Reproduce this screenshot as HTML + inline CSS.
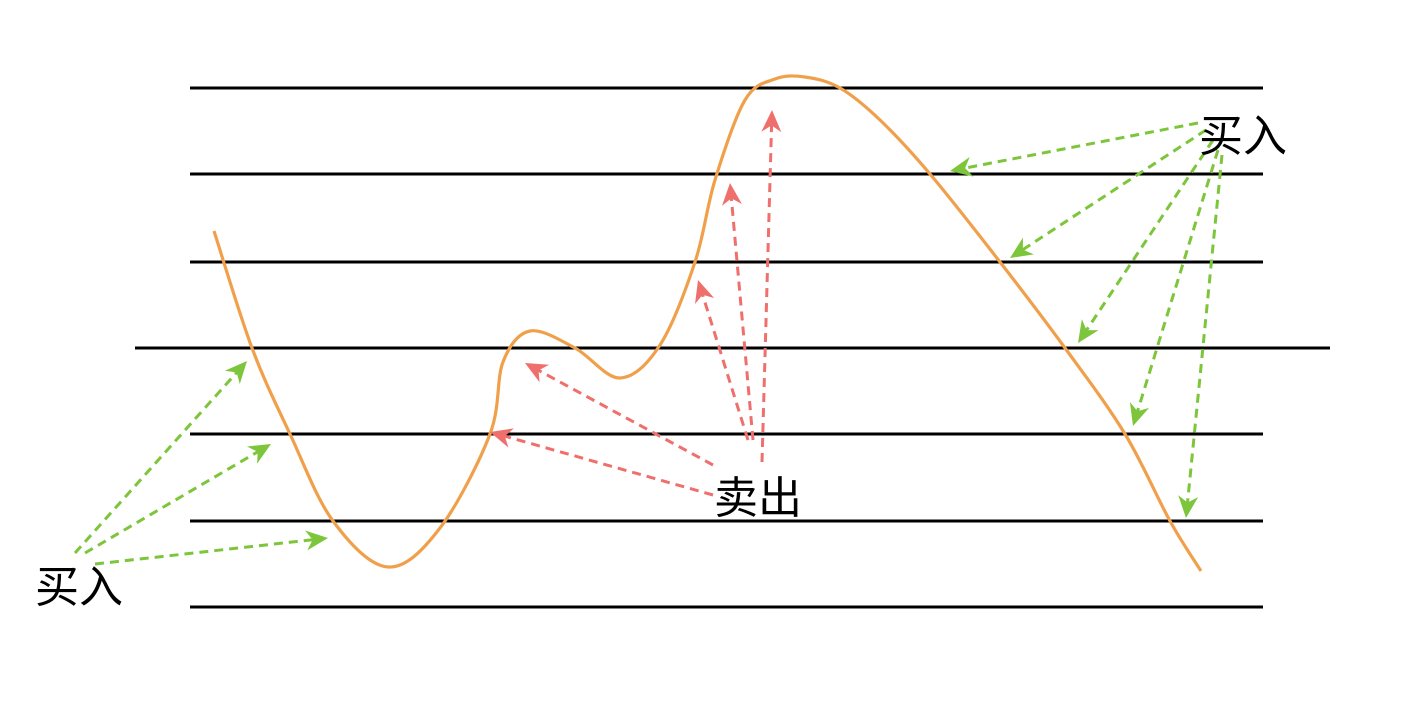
<!DOCTYPE html>
<html><head><meta charset="utf-8"><style>
html,body{margin:0;padding:0;background:#fff;width:1424px;height:712px;overflow:hidden}
text{font-family:"Liberation Sans","Noto Sans CJK SC",sans-serif;font-size:44px;fill:#000}
</style></head><body>
<svg id="chart" width="1424" height="712" viewBox="0 0 1424 712" xmlns="http://www.w3.org/2000/svg">
<g id="lines"></g>
<path id="curve" fill="none" stroke="#f0a04b" stroke-width="3.2"/>
<g id="arrows"></g>
<text x="35" y="602">买入</text>
<text x="714" y="513">卖出</text>
<text x="1199" y="151">买入</text>
</svg>
<script>
const levelY = [88, 174, 262, 348, 434, 521, 607];
const curveX = [214, 252, 290, 333, 388, 440, 490, 503, 530, 575, 620, 660, 695, 715, 745, 775, 805, 840, 880, 930, 1000, 1065, 1125, 1170, 1201];
const curveY = [231, 348, 434, 521, 567, 528, 434, 362, 331, 348, 378, 345, 262, 180, 100, 79, 77, 88, 120, 174, 262, 348, 434, 521, 571];
const greenArrows = [[75,553,247,361],[85,553,271,444],[95,564,328,538],[1198,123,950,171],[1206,130,1010,258],[1213,140,1078,343],[1218,150,1133,426],[1222,155,1186,518]];
const redArrows = [[748,440,698,280],[753,440,730,183],[762,462,772,110],[713,465,525,363],[713,495,490,432]];
const NS = "http://www.w3.org/2000/svg";
const lg = document.getElementById('lines');
levelY.forEach((y, i) => {
  const l = document.createElementNS(NS, 'line');
  const wide = i === 3;
  l.setAttribute('x1', wide ? 135 : 190);
  l.setAttribute('x2', wide ? 1330 : 1263);
  l.setAttribute('y1', y); l.setAttribute('y2', y);
  l.setAttribute('stroke', '#000'); l.setAttribute('stroke-width', 3);
  
  
  lg.appendChild(l);
});
let d = `M${curveX[0]},${curveY[0]}`;
for (let i = 0; i < curveX.length - 1; i++) {
  const p0x = curveX[Math.max(0, i - 1)], p0y = curveY[Math.max(0, i - 1)];
  const p1x = curveX[i], p1y = curveY[i], p2x = curveX[i + 1], p2y = curveY[i + 1];
  const p3x = curveX[Math.min(curveX.length - 1, i + 2)], p3y = curveY[Math.min(curveX.length - 1, i + 2)];
  d += ` C${p1x + (p2x - p0x) / 6},${p1y + (p2y - p0y) / 6} ${p2x - (p3x - p1x) / 6},${p2y - (p3y - p1y) / 6} ${p2x},${p2y}`;
}
document.getElementById('curve').setAttribute('d', d);
const ag = document.getElementById('arrows');
function arrow(a, color, name) {
  const ang = Math.atan2(a[3] - a[1], a[2] - a[0]);
  const L = 22, W = 10;
  const ix = a[2] - L * 0.7 * Math.cos(ang), iy = a[3] - L * 0.7 * Math.sin(ang);
  const l = document.createElementNS(NS, 'line');
  l.setAttribute('x1', a[0]); l.setAttribute('y1', a[1]);
  l.setAttribute('x2', ix); l.setAttribute('y2', iy);
  l.setAttribute('stroke', color); l.setAttribute('stroke-width', 3);
  l.setAttribute('stroke-dasharray', '9 6');
  
  
  ag.appendChild(l);
  const bx = a[2] - L * Math.cos(ang), by = a[3] - L * Math.sin(ang);
  const nx = -Math.sin(ang) * W, ny = Math.cos(ang) * W;
  const p = document.createElementNS(NS, 'path');
  p.setAttribute('d', `M${a[2]},${a[3]} L${bx + nx},${by + ny} L${ix},${iy} L${bx - nx},${by - ny} Z`);
  p.setAttribute('fill', color);
  
  
  ag.appendChild(p);
}
greenArrows.forEach(a => arrow(a, '#7dc53a', 'buy-arrow'));
redArrows.forEach(a => arrow(a, '#ef6f6c', 'sell-arrow'));
</script>
</body></html>
